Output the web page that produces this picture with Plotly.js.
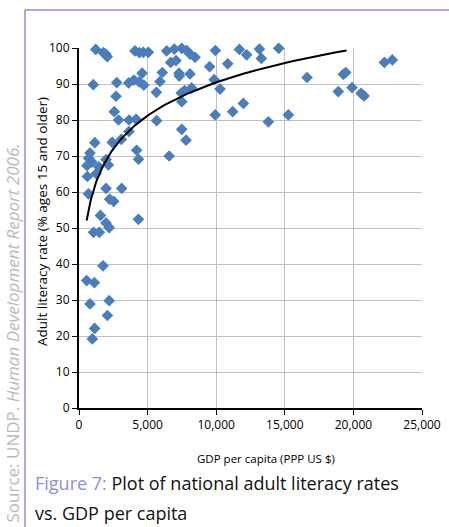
<!DOCTYPE html>
<html>
<head>
<meta charset="utf-8">
<script src="https://cdn.plot.ly/plotly-3.0.1.min.js"></script>
<style>
  html, body { margin: 0; padding: 0; background: #fff; }
  #chart { width: 449px; height: 527px; }
</style>
</head>
<body>
<div id="chart"></div>
<script>
// GDP per capita (PPP US $)
const gdp = [
  1220, 1770, 1950, 2060, 4080, 4400, 4690, 5050, 6390, 6950,
  7490, 7850, 8090, 8460, 6680, 7070, 9940, 9520, 10840, 11690,
  12220, 13150, 13290, 14560, 22260, 22840,
  6070, 5900, 7290, 7310, 8090, 5640, 7450, 7700, 7490, 8210,
  9850, 10280, 9930, 5660, 7490, 7800, 6570, 11200, 11980, 13800,
  15260, 16620, 18900, 19270, 19440, 19900, 20560, 20780,
  1040, 2750, 2700, 3620, 4000, 4600, 4380, 4720, 2570, 2880,
  3650, 4160, 3640, 3080, 2420, 1150, 4200, 4340, 2140, 1970,
  800, 700, 930, 580, 1440, 1250, 610, 1970, 3110, 690,
  2230, 2530, 1560, 4330, 1970, 2200, 1060, 1480, 1750, 560,
  1120, 800, 2200, 2070, 1140, 970
];
// Adult literacy rate (% ages 15 and older)
const literacy = [
  99.6, 98.7, 98.3, 97.6, 99.2, 98.7, 98.8, 98.8, 99.2, 99.7,
  99.9, 99.3, 98.3, 97.4, 96.0, 96.5, 99.3, 94.8, 95.6, 99.6,
  98.1, 99.7, 97.1, 99.9, 96.0, 96.7,
  93.2, 90.7, 93.0, 92.2, 92.8, 87.7, 87.5, 88.2, 85.1, 88.9,
  91.2, 88.6, 81.4, 79.8, 77.4, 74.4, 70.0, 82.3, 84.6, 79.5,
  81.4, 91.8, 87.9, 92.7, 93.2, 89.0, 87.4, 86.7,
  89.8, 90.4, 86.6, 90.3, 91.1, 93.0, 90.6, 89.7, 82.3, 80.0,
  80.0, 80.2, 76.8, 74.6, 73.8, 73.7, 71.6, 69.1, 67.5, 69.0,
  70.8, 69.4, 68.3, 67.3, 67.0, 65.1, 64.3, 61.0, 61.0, 59.5,
  58.0, 57.4, 53.5, 52.4, 51.4, 50.1, 48.8, 48.8, 39.5, 35.4,
  34.8, 28.9, 29.8, 25.7, 22.1, 19.2
];
const xTickVals = [0, 5000, 10000, 15000, 20000, 25000];
const yTickVals = [0, 10, 20, 30, 40, 50, 60, 70, 80, 90, 100];
const trendStart = 560;
const trendEnd = 19500;

// Logarithmic least-squares trendline fitted to the data (as the original spreadsheet trendline)
function logFit(xs, ys) {
  const n = xs.length;
  let sx = 0, sy = 0, sxx = 0, sxy = 0;
  for (let i = 0; i < n; i++) {
    const lx = Math.log(xs[i]);
    sx += lx; sy += ys[i]; sxx += lx * lx; sxy += lx * ys[i];
  }
  const b = (n * sxy - sx * sy) / (n * sxx - sx * sx);
  const a = (sy - b * sx) / n;
  return {a, b};
}
const fit = logFit(gdp, literacy);
const trendX = [], trendY = [];
const steps = 80;
for (let i = 0; i <= steps; i++) {
  const lx = Math.log(trendStart) + (Math.log(trendEnd) - Math.log(trendStart)) * i / steps;
  trendX.push(Math.exp(lx));
  trendY.push(fit.a + fit.b * lx);
}

const FONT = '"Open Sans", "DejaVu Sans", sans-serif';

const traces = [
  {
    type: 'scatter', mode: 'markers', x: gdp, y: literacy,
    marker: {symbol: 'diamond', size: 9, color: '#4a7ebb', line: {width: 0}},
    hoverinfo: 'x+y', showlegend: false, cliponaxis: false
  },
  {
    type: 'scatter', mode: 'lines', x: trendX, y: trendY,
    line: {color: '#000000', width: 2}, hoverinfo: 'skip', showlegend: false
  }
];

const px = (p) => (p - 79) / 343;   // pixel x -> paper
const py = (p) => (408 - p) / 360;  // pixel y -> paper

const layout = {
  width: 449, height: 527,
  margin: {l: 79, r: 27, t: 48, b: 119, pad: 0},
  paper_bgcolor: '#ffffff', plot_bgcolor: '#ffffff',
  font: {family: FONT, size: 12, color: '#000000'},
  showlegend: false,
  xaxis: {
    range: [0, 25000], tickvals: xTickVals, tickformat: ',d',
    showgrid: true, gridcolor: '#c0c0c0', gridwidth: 1,
    zeroline: false, showline: true, linecolor: '#000000', linewidth: 2,
    ticks: 'outside', ticklen: 5, tickwidth: 1, tickcolor: '#000000',
    tickfont: {family: FONT, size: 12, color: '#000000'},
    automargin: false, fixedrange: true
  },
  yaxis: {
    range: [0, 100], tickvals: yTickVals,
    showgrid: true, gridcolor: '#c0c0c0', gridwidth: 1,
    zeroline: false, showline: true, linecolor: '#000000', linewidth: 2,
    ticks: 'outside', ticklen: 5, tickwidth: 1, tickcolor: '#000000',
    tickfont: {family: FONT, size: 12, color: '#000000'},
    automargin: false, fixedrange: true
  },
  shapes: [
    {type: 'line', xref: 'paper', yref: 'paper', x0: px(25), x1: px(449), y0: py(10), y1: py(10),
     line: {color: '#8c8ee0', width: 1.5}},
    {type: 'line', xref: 'paper', yref: 'paper', x0: px(25), x1: px(25), y0: py(10), y1: py(530),
     line: {color: '#8c8ee0', width: 1.5}}
  ],
  annotations: [
    // axis titles
    {xref: 'paper', yref: 'paper', x: px(266), y: py(458), xanchor: 'center', yanchor: 'middle',
     showarrow: false, text: 'GDP per capita (PPP US $)',
     font: {family: FONT, size: 11.5, color: '#000000'}},
    {xref: 'paper', yref: 'paper', x: px(42), y: py(222), xanchor: 'center', yanchor: 'middle',
     showarrow: false, textangle: -90, text: 'Adult literacy rate (% ages 15 and older)',
     font: {family: FONT, size: 13.5, color: '#000000'}},
    // caption
    {xref: 'paper', yref: 'paper', x: px(33), y: py(483), xanchor: 'left', yanchor: 'middle',
     showarrow: false, align: 'left',
     text: '<span style="color:#8c8ee0">Figure 7:</span> Plot of national adult literacy rates',
     font: {family: FONT, size: 18, color: '#111111'}},
    {xref: 'paper', yref: 'paper', x: px(33), y: py(513), xanchor: 'left', yanchor: 'middle',
     showarrow: false, align: 'left',
     text: 'vs. GDP per capita',
     font: {family: FONT, size: 18, color: '#111111'}},
    // source note
    {xref: 'paper', yref: 'paper', x: px(12), y: py(142), xanchor: 'center', yanchor: 'top',
     showarrow: false, textangle: -90,
     text: 'Source: UNDP. <i>Human Development Report 2006.</i>',
     font: {family: FONT, size: 17, color: '#b8b8c2'}}
  ]
};

Plotly.newPlot('chart', traces, layout, {staticPlot: true, displayModeBar: false});
</script>
</body>
</html>
